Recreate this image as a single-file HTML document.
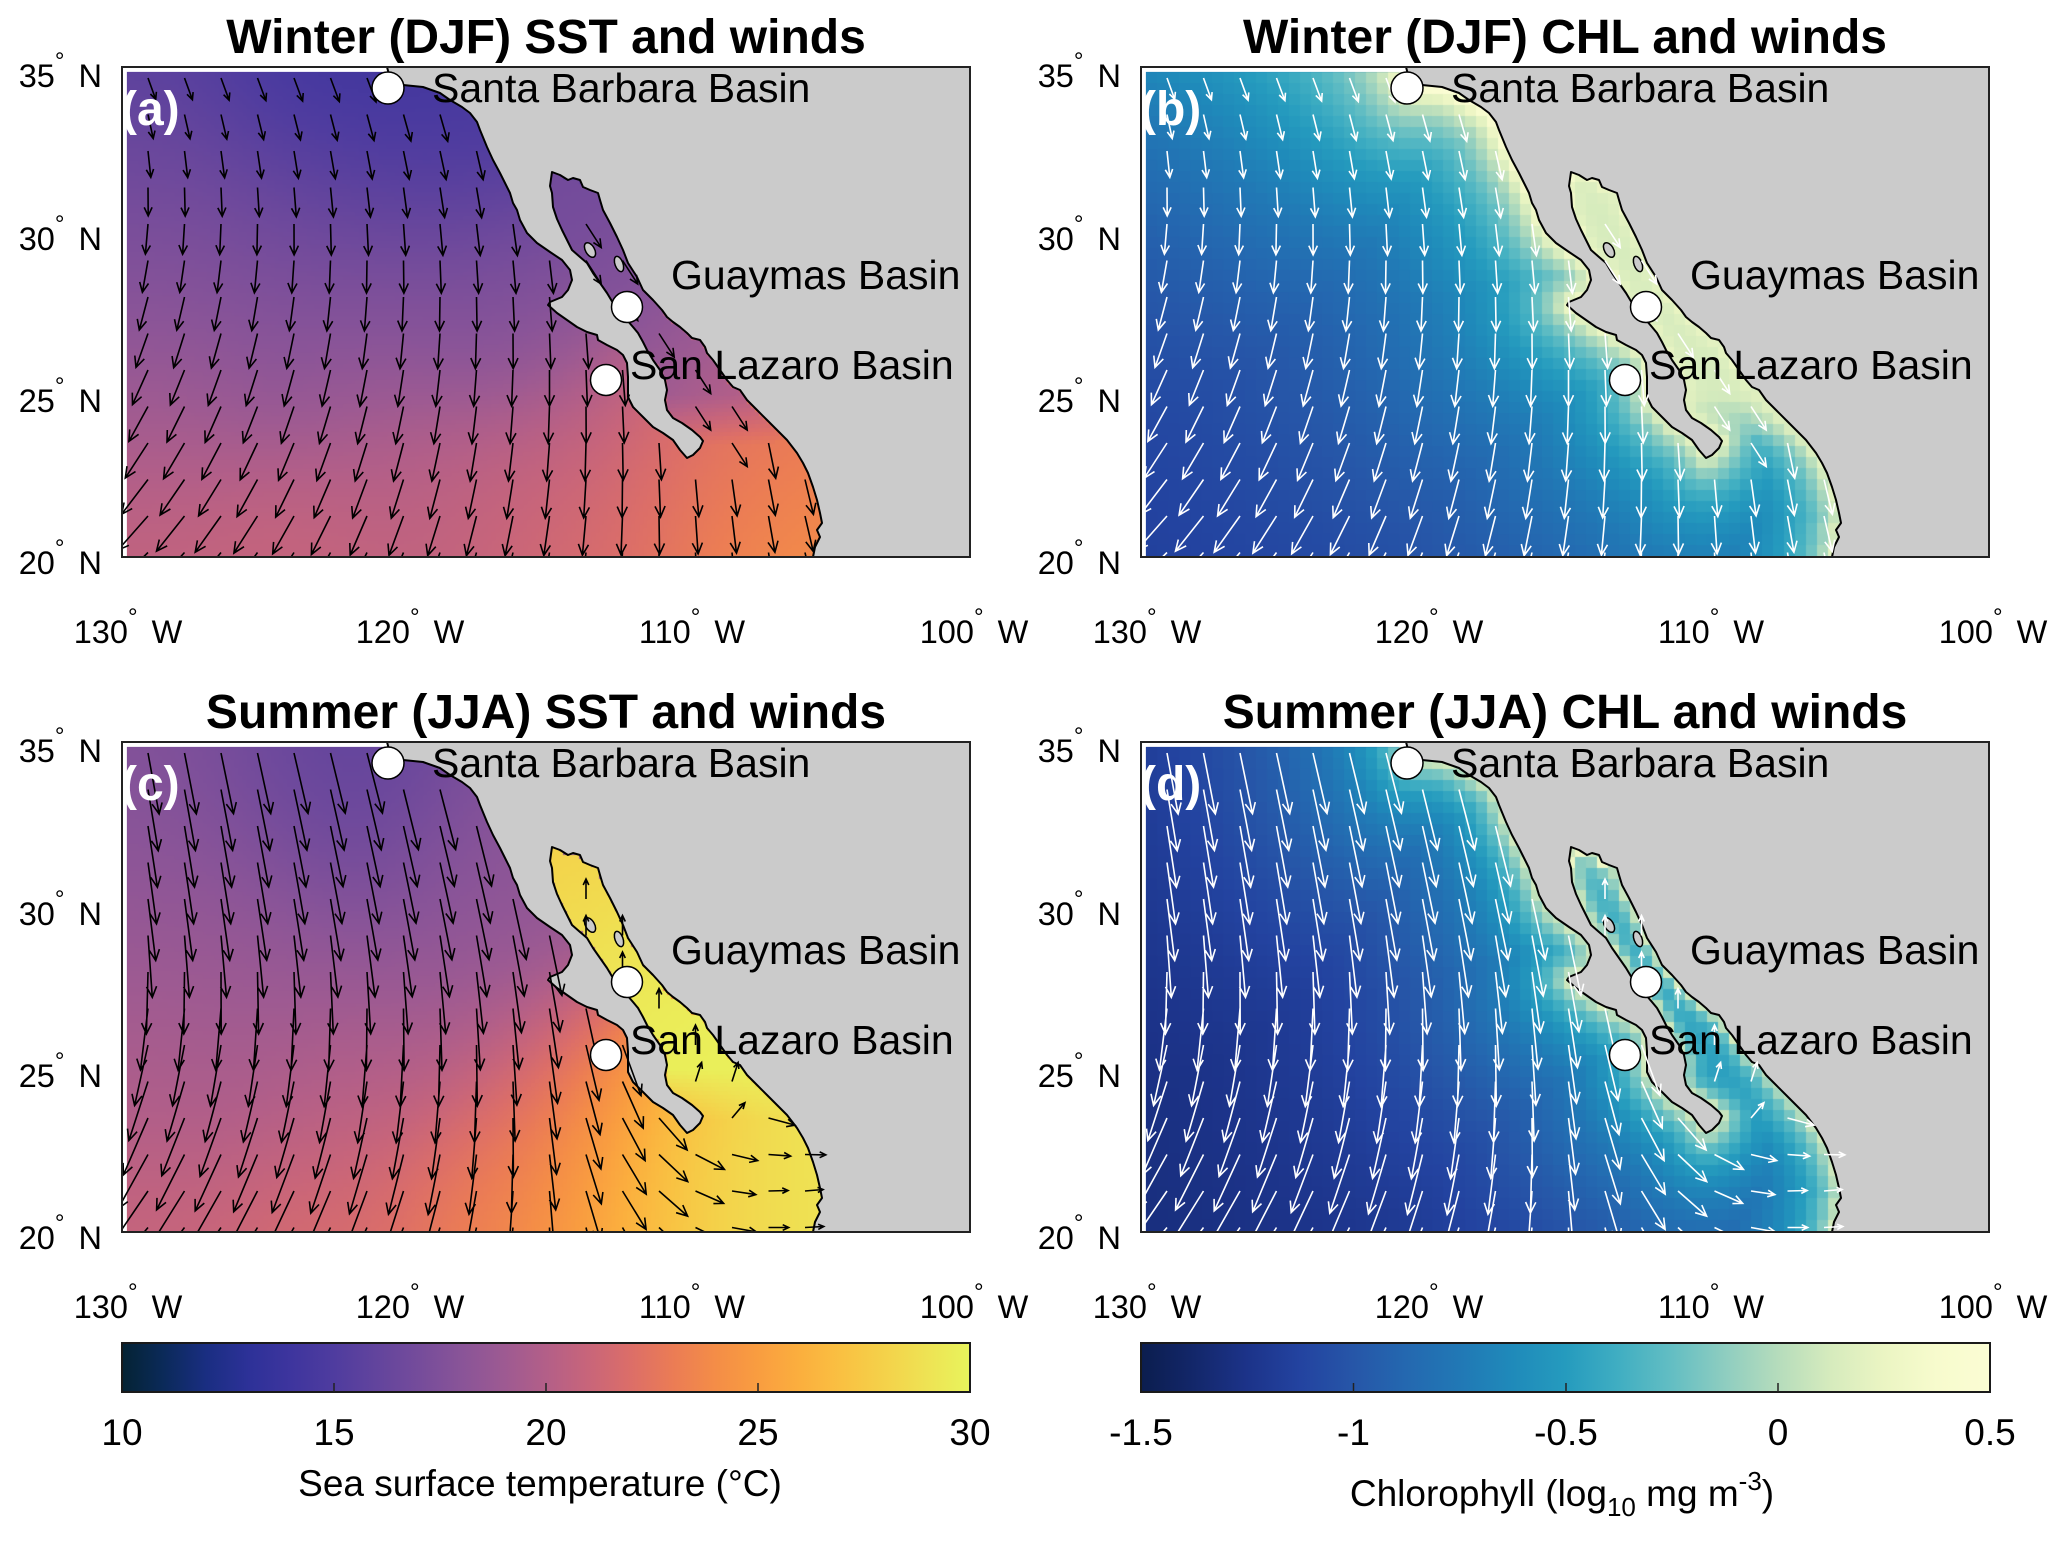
<!DOCTYPE html>
<html><head><meta charset="utf-8">
<style>
html,body{margin:0;padding:0;background:#fff;}
#fig{position:relative;width:2067px;height:1548px;overflow:hidden;background:#fff;}
#fig svg,#fig canvas{position:absolute;left:0;top:0;}
text{font-family:"Liberation Sans",Arial,Helvetica,sans-serif;fill:#000;}
</style></head><body>
<div id="fig">
<svg id="bg" width="2067" height="1548">
 <defs>
  <linearGradient id="fbA" x1="0" y1="0" x2="0" y2="1"><stop offset="0" stop-color="#4f3c9f"/><stop offset="0.5" stop-color="#8a5497"/><stop offset="1" stop-color="#cf6874"/></linearGradient>
  <linearGradient id="fbB" x1="0" y1="0" x2="0" y2="1"><stop offset="0" stop-color="#2578b5"/><stop offset="0.5" stop-color="#2450a8"/><stop offset="1" stop-color="#1f3c98"/></linearGradient>
  <linearGradient id="fbC" x1="0" y1="0" x2="0" y2="1"><stop offset="0" stop-color="#704a9b"/><stop offset="0.5" stop-color="#8e5696"/><stop offset="1" stop-color="#d06a70"/></linearGradient>
  <linearGradient id="fbD" x1="0" y1="0" x2="0" y2="1"><stop offset="0" stop-color="#1f3a92"/><stop offset="1" stop-color="#1d3690"/></linearGradient>
 </defs>
 <rect x="127" y="72" width="843" height="485" fill="url(#fbA)"/>
 <rect x="1146" y="72" width="843" height="485" fill="url(#fbB)"/>
 <rect x="127" y="747" width="843" height="485" fill="url(#fbC)"/>
 <rect x="1146" y="747" width="843" height="485" fill="url(#fbD)"/>
</svg>
<canvas id="cv" width="2067" height="1548"></canvas>
<svg id="fg" width="2067" height="1548">
 <defs>
  <clipPath id="clipBox"><rect x="122" y="67" width="848" height="490"/></clipPath>
  <g id="geo">
   <polygon id="landPoly" fill="#cbcbcb" points="387,67 390,78 394,85 403,85 423,87 440,93 450,100 462,107 470,113 477,122 480,130 487,147 493,160 500,173 505,183 510,193 513,203 517,210 520,220 527,233 537,243 550,252 562,260 570,270 572,280 568,290 562,297 550,302 548,305 557,313 567,320 577,327 587,332 597,335 598,340 607,345 617,350 623,355 627,363 628,377 628,390 628,397 633,407 643,417 653,427 663,433 673,440 680,450 687,458 693,455 700,448 703,441 700,437 692,430 682,423 673,418 667,410 665,400 667,390 665,380 660,370 653,360 647,350 643,342 638,333 633,327 627,320 620,313 613,303 607,293 600,283 593,273 587,263 580,257 572,250 567,240 562,230 557,219 553,207 552,193 550,186 552,172 560,175 568,180 573,178 580,180 583,187 590,190 598,193 600,200 603,210 610,223 617,237 623,250 628,263 637,277 643,290 653,300 662,310 667,317 673,322 680,327 687,333 692,338 700,340 705,347 707,353 713,360 720,370 727,380 733,387 740,390 747,400 757,410 767,420 777,430 787,440 797,453 803,463 808,473 813,487 817,500 820,513 822,523 817,530 820,537 815,547 813,557 970,557 970,67"/>
   <polyline fill="none" stroke="#000" stroke-width="2" stroke-linejoin="round" points="387,67 390,78 394,85 403,85 423,87 440,93 450,100 462,107 470,113 477,122 480,130 487,147 493,160 500,173 505,183 510,193 513,203 517,210 520,220 527,233 537,243 550,252 562,260 570,270 572,280 568,290 562,297 550,302 548,305 557,313 567,320 577,327 587,332 597,335 598,340 607,345 617,350 623,355 627,363 628,377 628,390 628,397 633,407 643,417 653,427 663,433 673,440 680,450 687,458 693,455 700,448 703,441 700,437 692,430 682,423 673,418 667,410 665,400 667,390 665,380 660,370 653,360 647,350 643,342 638,333 633,327 627,320 620,313 613,303 607,293 600,283 593,273 587,263 580,257 572,250 567,240 562,230 557,219 553,207 552,193 550,186 552,172 560,175 568,180 573,178 580,180 583,187 590,190 598,193 600,200 603,210 610,223 617,237 623,250 628,263 637,277 643,290 653,300 662,310 667,317 673,322 680,327 687,333 692,338 700,340 705,347 707,353 713,360 720,370 727,380 733,387 740,390 747,400 757,410 767,420 777,430 787,440 797,453 803,463 808,473 813,487 817,500 820,513 822,523 817,530 820,537 815,547 813,557"/>
   <ellipse cx="590" cy="250" rx="4.5" ry="8" transform="rotate(-30 590 250)" fill="#cbcbcb" stroke="#000" stroke-width="1.5"/>
   <ellipse cx="619" cy="264" rx="4" ry="8" transform="rotate(-20 619 264)" fill="#cbcbcb" stroke="#000" stroke-width="1.5"/>
  </g>
  <g id="sites">
   <circle cx="388" cy="88" r="16" fill="#fff" stroke="#000" stroke-width="1.5"/>
   <circle cx="627" cy="307" r="15.5" fill="#fff" stroke="#000" stroke-width="1.5"/>
   <circle cx="606" cy="380" r="15.5" fill="#fff" stroke="#000" stroke-width="1.5"/>
   <text x="432" y="102" font-size="41">Santa Barbara Basin</text>
   <text x="671" y="289" font-size="41">Guaymas Basin</text>
   <text x="630" y="379" font-size="41">San Lazaro Basin</text>
  </g>
  <linearGradient id="gSST" x1="0" y1="0" x2="1" y2="0">
   <stop offset="0" stop-color="#042333"/><stop offset="0.05" stop-color="#0b2a5a"/><stop offset="0.1" stop-color="#1a2e82"/><stop offset="0.15" stop-color="#2d3198"/><stop offset="0.2" stop-color="#3e359e"/><stop offset="0.25" stop-color="#4f3c9f"/><stop offset="0.3" stop-color="#62449d"/><stop offset="0.35" stop-color="#754c9b"/><stop offset="0.4" stop-color="#895498"/><stop offset="0.45" stop-color="#9d5a92"/><stop offset="0.5" stop-color="#b35f88"/><stop offset="0.55" stop-color="#c8657a"/><stop offset="0.6" stop-color="#dc6e68"/><stop offset="0.65" stop-color="#eb7c55"/><stop offset="0.7" stop-color="#f48d47"/><stop offset="0.75" stop-color="#f99d40"/><stop offset="0.8" stop-color="#fbaf3e"/><stop offset="0.85" stop-color="#f9c142"/><stop offset="0.9" stop-color="#f4d24a"/><stop offset="0.95" stop-color="#eee354"/><stop offset="1" stop-color="#e8f45c"/>
  </linearGradient>
  <linearGradient id="gCHL" x1="0" y1="0" x2="1" y2="0">
   <stop offset="0" stop-color="#0b1d4e"/><stop offset="0.0625" stop-color="#13276a"/><stop offset="0.125" stop-color="#1c3389"/><stop offset="0.1875" stop-color="#2343a0"/><stop offset="0.25" stop-color="#2656a8"/><stop offset="0.3125" stop-color="#2468b0"/><stop offset="0.375" stop-color="#2178b5"/><stop offset="0.4375" stop-color="#1f8aba"/><stop offset="0.5" stop-color="#259bbe"/><stop offset="0.5625" stop-color="#40aec2"/><stop offset="0.625" stop-color="#63bec3"/><stop offset="0.6875" stop-color="#8ecdc0"/><stop offset="0.75" stop-color="#b5dcbc"/><stop offset="0.8125" stop-color="#d6ebbd"/><stop offset="0.875" stop-color="#ebf5c3"/><stop offset="0.9375" stop-color="#f7fbcd"/><stop offset="1" stop-color="#fbfdd4"/>
  </linearGradient>
 </defs>

 <!-- Panel a -->
 <use href="#geo"/>
 <g><path id="arA" clip-path="url(#clipBox)" fill="none" stroke="#000" stroke-width="1.6" d=""/></g>
 <use href="#sites"/>
 <text x="121" y="125" font-size="48" font-weight="bold" style="fill:#fff">(a)</text>
 <rect x="122" y="67" width="848" height="490" fill="none" stroke="#222" stroke-width="2"/>

 <!-- Panel b -->
 <use href="#geo" transform="translate(1019,0)"/>
 <g transform="translate(1019,0)"><path id="arB" clip-path="url(#clipBox)" fill="none" stroke="#fff" stroke-width="1.6" d=""/></g>
 <use href="#sites" transform="translate(1019,0)"/>
 <text x="1140" y="125" font-size="48" font-weight="bold" style="fill:#fff">(b)</text>
 <rect x="1141" y="67" width="848" height="490" fill="none" stroke="#222" stroke-width="2"/>

 <!-- Panel c -->
 <use href="#geo" transform="translate(0,675)"/>
 <g transform="translate(0,675)"><path id="arC" clip-path="url(#clipBox)" fill="none" stroke="#000" stroke-width="1.6" d=""/></g>
 <use href="#sites" transform="translate(0,675)"/>
 <text x="121" y="800" font-size="48" font-weight="bold" style="fill:#fff">(c)</text>
 <rect x="122" y="742" width="848" height="490" fill="none" stroke="#222" stroke-width="2"/>

 <!-- Panel d -->
 <use href="#geo" transform="translate(1019,675)"/>
 <g transform="translate(1019,675)"><path id="arD" clip-path="url(#clipBox)" fill="none" stroke="#fff" stroke-width="1.6" d=""/></g>
 <use href="#sites" transform="translate(1019,675)"/>
 <text x="1140" y="800" font-size="48" font-weight="bold" style="fill:#fff">(d)</text>
 <rect x="1141" y="742" width="848" height="490" fill="none" stroke="#222" stroke-width="2"/>

 <!-- Titles -->
 <text x="546" y="53" text-anchor="middle" font-size="48" font-weight="bold">Winter (DJF) SST and winds</text>
 <text x="1565" y="53" text-anchor="middle" font-size="48" font-weight="bold">Winter (DJF) CHL and winds</text>
 <text x="546" y="728" text-anchor="middle" font-size="48" font-weight="bold">Summer (JJA) SST and winds</text>
 <text x="1565" y="728" text-anchor="middle" font-size="48" font-weight="bold">Summer (JJA) CHL and winds</text>

 <!-- Tick labels panel a -->
 <g font-size="32.5">
  <text x="102" y="87" text-anchor="end">35<tspan font-size="24" dy="-18">°</tspan><tspan dy="18" dx="5"> N</tspan></text>
  <text x="102" y="250" text-anchor="end">30<tspan font-size="24" dy="-18">°</tspan><tspan dy="18" dx="5"> N</tspan></text>
  <text x="102" y="412" text-anchor="end">25<tspan font-size="24" dy="-18">°</tspan><tspan dy="18" dx="5"> N</tspan></text>
  <text x="102" y="574" text-anchor="end">20<tspan font-size="24" dy="-18">°</tspan><tspan dy="18" dx="5"> N</tspan></text>
  <text x="128" y="643" text-anchor="middle">130<tspan font-size="24" dy="-18">°</tspan><tspan dy="18" dx="5"> W</tspan></text>
  <text x="410" y="643" text-anchor="middle">120<tspan font-size="24" dy="-18">°</tspan><tspan dy="18" dx="5"> W</tspan></text>
  <text x="692" y="643" text-anchor="middle">110<tspan font-size="24" dy="-18">°</tspan><tspan dy="18" dx="5"> W</tspan></text>
  <text x="974" y="643" text-anchor="middle">100<tspan font-size="24" dy="-18">°</tspan><tspan dy="18" dx="5"> W</tspan></text>
 </g>
 <!-- panel b -->
 <g font-size="32.5">
  <text x="1121" y="87" text-anchor="end">35<tspan font-size="24" dy="-18">°</tspan><tspan dy="18" dx="5"> N</tspan></text>
  <text x="1121" y="250" text-anchor="end">30<tspan font-size="24" dy="-18">°</tspan><tspan dy="18" dx="5"> N</tspan></text>
  <text x="1121" y="412" text-anchor="end">25<tspan font-size="24" dy="-18">°</tspan><tspan dy="18" dx="5"> N</tspan></text>
  <text x="1121" y="574" text-anchor="end">20<tspan font-size="24" dy="-18">°</tspan><tspan dy="18" dx="5"> N</tspan></text>
  <text x="1147" y="643" text-anchor="middle">130<tspan font-size="24" dy="-18">°</tspan><tspan dy="18" dx="5"> W</tspan></text>
  <text x="1429" y="643" text-anchor="middle">120<tspan font-size="24" dy="-18">°</tspan><tspan dy="18" dx="5"> W</tspan></text>
  <text x="1711" y="643" text-anchor="middle">110<tspan font-size="24" dy="-18">°</tspan><tspan dy="18" dx="5"> W</tspan></text>
  <text x="1993" y="643" text-anchor="middle">100<tspan font-size="24" dy="-18">°</tspan><tspan dy="18" dx="5"> W</tspan></text>
 </g>
 <!-- panel c -->
 <g font-size="32.5">
  <text x="102" y="762" text-anchor="end">35<tspan font-size="24" dy="-18">°</tspan><tspan dy="18" dx="5"> N</tspan></text>
  <text x="102" y="925" text-anchor="end">30<tspan font-size="24" dy="-18">°</tspan><tspan dy="18" dx="5"> N</tspan></text>
  <text x="102" y="1087" text-anchor="end">25<tspan font-size="24" dy="-18">°</tspan><tspan dy="18" dx="5"> N</tspan></text>
  <text x="102" y="1249" text-anchor="end">20<tspan font-size="24" dy="-18">°</tspan><tspan dy="18" dx="5"> N</tspan></text>
  <text x="128" y="1318" text-anchor="middle">130<tspan font-size="24" dy="-18">°</tspan><tspan dy="18" dx="5"> W</tspan></text>
  <text x="410" y="1318" text-anchor="middle">120<tspan font-size="24" dy="-18">°</tspan><tspan dy="18" dx="5"> W</tspan></text>
  <text x="692" y="1318" text-anchor="middle">110<tspan font-size="24" dy="-18">°</tspan><tspan dy="18" dx="5"> W</tspan></text>
  <text x="974" y="1318" text-anchor="middle">100<tspan font-size="24" dy="-18">°</tspan><tspan dy="18" dx="5"> W</tspan></text>
 </g>
 <!-- panel d -->
 <g font-size="32.5">
  <text x="1121" y="762" text-anchor="end">35<tspan font-size="24" dy="-18">°</tspan><tspan dy="18" dx="5"> N</tspan></text>
  <text x="1121" y="925" text-anchor="end">30<tspan font-size="24" dy="-18">°</tspan><tspan dy="18" dx="5"> N</tspan></text>
  <text x="1121" y="1087" text-anchor="end">25<tspan font-size="24" dy="-18">°</tspan><tspan dy="18" dx="5"> N</tspan></text>
  <text x="1121" y="1249" text-anchor="end">20<tspan font-size="24" dy="-18">°</tspan><tspan dy="18" dx="5"> N</tspan></text>
  <text x="1147" y="1318" text-anchor="middle">130<tspan font-size="24" dy="-18">°</tspan><tspan dy="18" dx="5"> W</tspan></text>
  <text x="1429" y="1318" text-anchor="middle">120<tspan font-size="24" dy="-18">°</tspan><tspan dy="18" dx="5"> W</tspan></text>
  <text x="1711" y="1318" text-anchor="middle">110<tspan font-size="24" dy="-18">°</tspan><tspan dy="18" dx="5"> W</tspan></text>
  <text x="1993" y="1318" text-anchor="middle">100<tspan font-size="24" dy="-18">°</tspan><tspan dy="18" dx="5"> W</tspan></text>
 </g>

 <!-- Colorbars -->
 <rect x="122" y="1343" width="848" height="49" fill="url(#gSST)" stroke="#1a1a1a" stroke-width="2"/>
 <g stroke="#222" stroke-width="1.5">
  <line x1="334" y1="1383" x2="334" y2="1392"/><line x1="546" y1="1383" x2="546" y2="1392"/><line x1="758" y1="1383" x2="758" y2="1392"/>
 </g>
 <rect x="1141" y="1343" width="849" height="49" fill="url(#gCHL)" stroke="#1a1a1a" stroke-width="2"/>
 <g stroke="#222" stroke-width="1.5">
  <line x1="1353.5" y1="1383" x2="1353.5" y2="1392"/><line x1="1566" y1="1383" x2="1566" y2="1392"/><line x1="1778" y1="1383" x2="1778" y2="1392"/>
 </g>
 <g font-size="37" text-anchor="middle">
  <text x="122" y="1445">10</text><text x="334" y="1445">15</text><text x="546" y="1445">20</text><text x="758" y="1445">25</text><text x="970" y="1445">30</text>
  <text x="1141" y="1445">-1.5</text><text x="1353.5" y="1445">-1</text><text x="1566" y="1445">-0.5</text><text x="1778" y="1445">0</text><text x="1990" y="1445">0.5</text>
 </g>
 <text x="540" y="1496" text-anchor="middle" font-size="37">Sea surface temperature (°C)</text>
 <text x="1562" y="1506" text-anchor="middle" font-size="37">Chlorophyll (log<tspan font-size="26" dy="10">10</tspan><tspan dy="-10"> mg m</tspan><tspan font-size="26" dy="-16">-3</tspan><tspan dy="16">)</tspan></text>
</svg>
</div>
<script>
(function(){
function parsePts(s){return s.trim().split(/\s+/).map(function(p){return p.split(',').map(Number);});}
var land=parsePts(document.getElementById('landPoly').getAttribute('points'));
var coast=land.slice(0,land.length-2);
function idx(x,y){for(var i=0;i<coast.length;i++){if(coast[i][0]===x&&coast[i][1]===y)return i;}return -1;}
var iB0=idx(693,455), iM34=idx(787,440);
var gulf=coast.slice(iB0,iM34+1);
function inPoly(poly,x,y){var c=false;for(var i=0,j=poly.length-1;i<poly.length;j=i++){var xi=poly[i][0],yi=poly[i][1],xj=poly[j][0],yj=poly[j][1];if(((yi>y)!==(yj>y))&&(x<(xj-xi)*(y-yi)/(yj-yi)+xi))c=!c;}return c;}
function segDist(x,y,pts){var m=1e12;for(var i=0;i<pts.length-1;i++){var ax=pts[i][0],ay=pts[i][1],vx=pts[i+1][0]-ax,vy=pts[i+1][1]-ay,wx=x-ax,wy=y-ay;var l=vx*vx+vy*vy||1;var t=(vx*wx+vy*wy)/l;t=t<0?0:(t>1?1:t);var dx=wx-t*vx,dy=wy-t*vy;var d=dx*dx+dy*dy;if(d<m)m=d;}return Math.sqrt(m);}
function clamp(t){return t<0?0:(t>1?1:t);}
function mkCmap(stops){
 var s=stops.map(function(a){var h=a[1];return [a[0],parseInt(h.substr(1,2),16),parseInt(h.substr(3,2),16),parseInt(h.substr(5,2),16)];});
 return function(v){
  if(v<=s[0][0])return 'rgb('+s[0][1]+','+s[0][2]+','+s[0][3]+')';
  for(var i=1;i<s.length;i++){if(v<=s[i][0]){var t=(v-s[i-1][0])/(s[i][0]-s[i-1][0]);
   var r=Math.round(s[i-1][1]+t*(s[i][1]-s[i-1][1])),g=Math.round(s[i-1][2]+t*(s[i][2]-s[i-1][2])),b=Math.round(s[i-1][3]+t*(s[i][3]-s[i-1][3]));
   return 'rgb('+r+','+g+','+b+')';}}
  var l=s[s.length-1];return 'rgb('+l[1]+','+l[2]+','+l[3]+')';
 };
}
var sstC=mkCmap([[10,'#042333'],[11,'#0b2a5a'],[12,'#1a2e82'],[13,'#2d3198'],[14,'#3e359e'],[15,'#4f3c9f'],[16,'#62449d'],[17,'#754c9b'],[18,'#895498'],[19,'#9d5a92'],[20,'#b35f88'],[21,'#c8657a'],[22,'#dc6e68'],[23,'#eb7c55'],[24,'#f48d47'],[25,'#f99d40'],[26,'#fbaf3e'],[27,'#f9c142'],[28,'#f4d24a'],[29,'#eee354'],[30,'#e8f45c']]);
var chlC=mkCmap([[-1.5,'#0b1d4e'],[-1.375,'#13276a'],[-1.25,'#1c3389'],[-1.125,'#2343a0'],[-1.0,'#2656a8'],[-0.875,'#2468b0'],[-0.75,'#2178b5'],[-0.625,'#1f8aba'],[-0.5,'#259bbe'],[-0.375,'#40aec2'],[-0.25,'#63bec3'],[-0.125,'#8ecdc0'],[0,'#b5dcbc'],[0.125,'#d6ebbd'],[0.25,'#ebf5c3'],[0.375,'#f7fbcd'],[0.5,'#fbfdd4']]);
var WO=[[132,77,15.3],[140,150,16.3],[140,200,17.0],[140,250,17.7],[140,320,18.3],[140,420,19.5],[140,550,20.8],[272,77,14.5],[387,82,13.2],[430,100,13.8],[413,160,16.0],[480,160,15.2],[330,190,15.8],[300,260,17.3],[320,360,18.3],[413,293,17.8],[513,293,17.4],[545,320,17.6],[400,450,19.9],[320,550,21.0],[480,527,20.8],[580,527,21.3],[620,545,22.2],[600,420,19.8],[600,460,20.5],[680,527,22.8],[700,470,22.0],[747,460,22.5],[740,505,24.0],[780,543,25.5],[810,500,24.0],[740,430,21.0],[790,470,23.0]];
var WG=[[556,180,16.6],[590,240,17.0],[627,300,17.6],[660,350,18.3],[700,400,19.4],[740,430,20.6],[775,440,21.4]];
var SO=[[143,88,17.5],[277,88,17.0],[360,82,15.2],[421,122,15.8],[380,110,15.4],[470,135,19.0],[490,175,18.6],[505,200,18.2],[143,180,18.2],[143,262,18.6],[277,262,18.5],[443,262,18.1],[543,282,18.2],[300,180,17.7],[143,350,19.4],[143,428,20.0],[332,428,20.3],[250,350,19.2],[450,350,19.7],[554,398,21.0],[610,388,22.8],[143,548,21.0],[332,548,21.8],[499,548,23.2],[554,473,22.5],[610,548,25.0],[638,447,24.5],[665,498,25.7],[665,548,26.5],[693,463,26.8],[721,548,28.0],[721,500,28.8],[749,548,28.6],[777,498,29.4],[749,447,29.2],[745,445,29.2],[775,470,29.6],[790,520,29.5],[800,540,29.3]];
var SG=[[556,180,27.6],[590,240,28.5],[627,300,29.3],[660,350,29.6],[700,400,29.8],[740,430,29.8],[775,440,29.8]];
function kern(pts,x,y){var sw=0,sv=0;for(var i=0;i<pts.length;i++){var p=pts[i];var dx=x-p[0],dy=y-p[1];var w=Math.exp(-(dx*dx+dy*dy)/(2*75*75))+1e-14;sw+=w;sv+=w*p[2];}return sv/sw;}
function blendT(y){return clamp((y-395)/50);}
function fA(x,y){var o=kern(WO,x,y);if(!inPoly(gulf,x,y))return o;var g=kern(WG,x,y),t=blendT(y);return g*(1-t)+o*t;}
function fC(x,y){var o=kern(SO,x,y);if(!inPoly(gulf,x,y))return o;var g=kern(SG,x,y),t=blendT(y);return g*(1-t)+o*t;}
function oB(x,y){var v=(y-72)/485;var d=segDist(x,y,coast);return -1.22+0.37*Math.exp(-v/0.35)+0.55*Math.exp(-d/25)+0.85*Math.exp(-d/180);}
function oD(x,y){var d=segDist(x,y,coast);return -1.33+0.5*Math.exp(-d/20)+0.95*Math.exp(-d/150);}
function fB(x,y){if(inPoly(gulf,x,y)){var dg=segDist(x,y,gulf);var g=0.12+0.12*Math.exp(-dg/8);var t=blendT(y);if(t>0){return g*(1-t)+oB(x,y)*t;}return g;}return oB(x,y);}
function fD(x,y){if(inPoly(gulf,x,y)){var dg=segDist(x,y,gulf);var g=-0.5+0.15*clamp((300-y)/120)+0.65*Math.exp(-dg/9);var t=blendT(y);if(t>0){return g*(1-t)+oD(x,y)*t;}return g;}return oD(x,y);}
var cv=document.getElementById('cv');var ctx=cv.getContext('2d');
function drawPanel(ox,oy,cell,fn,cmap){
 for(var y=72;y<557;y+=cell){for(var x=127;x<970;x+=cell){
  var cx=Math.min(x+cell/2,969),cy=Math.min(y+cell/2,556);
  if(x>835)continue;
  var w=Math.min(cell,970-x),h=Math.min(cell,557-y);
  ctx.fillStyle=cmap(fn(cx,cy));
  ctx.fillRect(ox+x,oy+y,w+(x+cell<970?0.6:0),h+(y+cell<557?0.6:0));
 }}
}
try{
 drawPanel(0,0,4,fA,sstC);
 drawPanel(1019,0,11,fB,chlC);
 drawPanel(0,675,4,fC,sstC);
 drawPanel(1019,675,11,fD,chlC);
}catch(e){}
function arrows(season){
 var d='';
 for(var j=0;j<14;j++){var y=78+j*36.5;if(y>556)break;
  for(var i=0;i<26;i++){var x=111.5+i*36.5;
   if(x<127||x>968)continue;
   if(inPoly(land,x,y))continue;
   var u=(x-127)/843,v=(y-72)/485,th,L;
   var g=inPoly(gulf,x,y);
   if(season==='w'){
    if(g){th=33;L=28;}else{th=22-Math.pow(v,0.8)*(70-75*u);L=22+26*v*(1-u)+12*u;}
   }else{
    if(g){th=180-40*clamp((y-380)/60);L=20;}else{
     var lx=x-122,ly=y-67;
     var thb=(10+16*u)*(1-v)-42*clamp((v-0.35)/0.65)*Math.pow(1-u,1.5);
     var w=Math.exp(-((lx-680)*(lx-680)+(ly-460)*(ly-460))/(2*130*130));
     th=thb*(1-w)+95*w;L=62-44*w;
    }
   }
   var r=th*Math.PI/180,ex=Math.sin(r),ey=Math.cos(r);
   var tx=x+L*ex,ty=y+L*ey;
   var h=Math.min(12,0.33*L),a=25*Math.PI/180,ca=Math.cos(a),sa=Math.sin(a);
   var bx=-ex,by=-ey;
   var h1x=tx+h*(bx*ca-by*sa),h1y=ty+h*(bx*sa+by*ca);
   var h2x=tx+h*(bx*ca+by*sa),h2y=ty+h*(-bx*sa+by*ca);
   d+='M'+x.toFixed(1)+' '+y.toFixed(1)+'L'+tx.toFixed(1)+' '+ty.toFixed(1)+'M'+h1x.toFixed(1)+' '+h1y.toFixed(1)+'L'+tx.toFixed(1)+' '+ty.toFixed(1)+'L'+h2x.toFixed(1)+' '+h2y.toFixed(1);
  }
 }
 return d;
}
try{
 var dw=arrows('w'),ds=arrows('s');
 document.getElementById('arA').setAttribute('d',dw);
 document.getElementById('arB').setAttribute('d',dw);
 document.getElementById('arC').setAttribute('d',ds);
 document.getElementById('arD').setAttribute('d',ds);
}catch(e){}
})();
</script>
</body></html>
